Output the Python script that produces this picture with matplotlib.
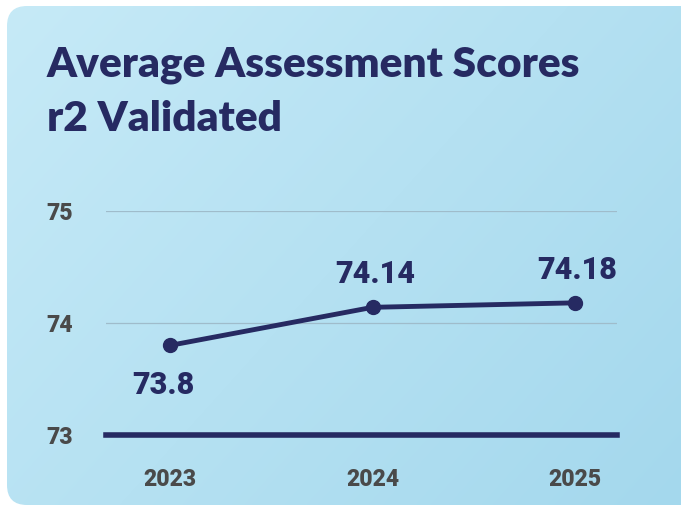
import matplotlib
matplotlib.use('Agg')
import matplotlib.pyplot as plt
import numpy as np
from matplotlib.patches import FancyBboxPatch

# data
years = ['2023', '2024', '2025']
scores = [73.8, 74.14, 74.18]
score_labels = ['73.8', '74.14', '74.18']
y_ticks = [73, 74, 75]
title_lines = ['Average Assessment Scores', 'r2 Validated']

navy = '#262a62'
grey = '#4a4a4a'

fig = plt.figure(figsize=(6.81, 5.08), dpi=100)
W, H = 681, 508

# card background with gradient
bg = fig.add_axes([0, 0, 1, 1], zorder=-1)
bg.set_xlim(0, W)
bg.set_ylim(H, 0)
bg.axis('off')
gx, gy = np.meshgrid(np.linspace(0, 1, 200), np.linspace(0, 1, 200))
t = (gx * 0.6 + gy * 0.4)
c0 = np.array([0xc6, 0xea, 0xf7]) / 255
c1 = np.array([0xa4, 0xd8, 0xed]) / 255
grad = c0[None, None, :] * (1 - t[..., None]) + c1[None, None, :] * t[..., None]
im = bg.imshow(grad, extent=[7, 681, 505, 6], aspect='auto', interpolation='bilinear')
card = FancyBboxPatch((7 + 20, 6 + 20), 681 - 7 - 40 + 20, 505 - 6 - 40,
                      boxstyle='round,pad=20', transform=bg.transData,
                      facecolor='none', edgecolor='none')
bg.add_patch(card)
im.set_clip_path(card)

# title
for line, base in zip(title_lines, [76, 131]):
    fig.text(47 / W, 1 - base / H, line, fontsize=30.5, fontweight='heavy',
             family='Lato', color=navy, va='baseline', ha='left')

# main chart
ax = fig.add_axes([106 / W, 1 - 435 / H, (617 - 106) / W, (435 - 211) / H])
ax.patch.set_alpha(0)
x = np.arange(len(years))
ax.plot(x, scores, color=navy, lw=3.5, marker='o', ms=10, zorder=3,
        solid_capstyle='round')
ax.set_xlim(-0.316, 2.207)
ax.set_ylim(73, 75)
ax.set_yticks(y_ticks)
ax.set_yticklabels([str(v) for v in y_ticks])
ax.set_xticks(x)
ax.set_xticklabels(years)
for s in ax.spines.values():
    s.set_visible(False)
ax.tick_params(length=0)
ax.tick_params(axis='y', pad=24)
ax.tick_params(axis='x', pad=24)
for lab in ax.get_xticklabels() + ax.get_yticklabels():
    lab.set_fontfamily('Roboto')
    lab.set_fontweight('heavy')
    lab.set_fontsize(16.5)
    lab.set_color(grey)
for v in y_ticks[1:]:
    ax.axhline(v, color='#9fbccb', lw=0.9, zorder=1)
ax.axhline(73, color=navy, lw=4, zorder=2, clip_on=False)

# value labels
for i, (v, lab) in enumerate(zip(scores, score_labels)):
    below = i == 0
    ax.annotate(lab, (i, v), xytext=(-27, -18 if below else 13),
                textcoords='offset points', ha='left',
                va='top' if below else 'bottom', fontsize=22,
                fontweight='heavy', family='Roboto', color=navy,
                annotation_clip=False)

fig.savefig('out.png', dpi=100)
